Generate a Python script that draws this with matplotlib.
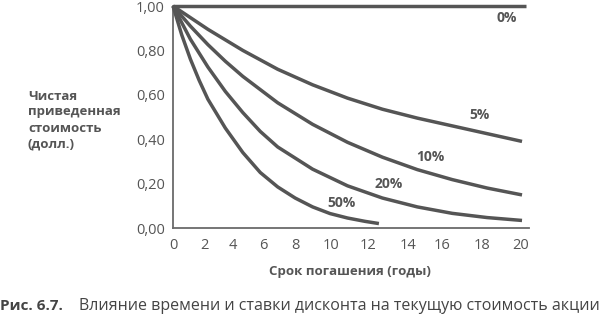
import matplotlib
matplotlib.use("Agg")
import matplotlib.pyplot as plt

# ---- data ----
rate_labels = ["0%", "5%", "10%", "20%", "50%"]

years_0 = [0, 20.2]
pv_0 = [1.0, 1.0]

years_5 = [0, 2, 4, 6, 8, 10, 12, 14, 16, 18, 20]
pv_5 = [1.0, 0.895, 0.80, 0.715, 0.645, 0.585, 0.535, 0.495, 0.46, 0.425, 0.39]

years_10 = [0, 1, 2, 3, 4, 6, 8, 10, 12, 14, 16, 18, 20]
pv_10 = [1.0, 0.909, 0.826, 0.751, 0.683, 0.564, 0.467, 0.386, 0.319, 0.263, 0.218, 0.180, 0.149]

years_20 = [0, 1, 2, 3, 4, 5, 6, 8, 10, 12, 14, 16, 18, 20]
pv_20 = [1.0, 0.85, 0.725, 0.615, 0.52, 0.435, 0.365, 0.265, 0.19, 0.135, 0.095, 0.066, 0.047, 0.034]

years_50 = [0, 0.5, 1, 1.5, 2, 3, 4, 5, 6, 7, 8, 9, 10, 11, 11.8]
pv_50 = [1.0, 0.87, 0.76, 0.665, 0.58, 0.45, 0.34, 0.25, 0.185, 0.135, 0.095, 0.065, 0.045, 0.03, 0.02]

x_tick_labels = ["0", "2", "4", "6", "8", "10", "12", "14", "16", "18", "20"]
y_tick_values = [0.0, 0.2, 0.4, 0.6, 0.8, 1.0]
y_tick_labels = ["0,00", "0,20", "0,40", "0,60", "0,80", "1,00"]

y_title = "Чистая\nприведенная\nстоимость\n(долл.)"
x_title = "Срок погашения (годы)"
caption_bold = "Рис. 6.7."
caption_text = "Влияние времени и ставки дисконта на текущую стоимость акции"

# ---- layout / style ----
x_tick_pos = [0.05, 1.8, 3.45, 5.2, 7.0, 9.05, 11.15, 13.45, 15.4, 17.7, 19.9]
label_pos = [(19.14, 0.946), (17.58, 0.509), (14.76, 0.320), (12.34, 0.198), (9.63, 0.113)]

FONT = "Open Sans"
plt.rcParams["font.family"] = [FONT, "DejaVu Sans"]
line_c = "#555555"
text_c = "#555555"

fig = plt.figure(figsize=(6.0, 3.18), dpi=100)
ax = fig.add_axes([173 / 600, 90 / 318, 356 / 600, 222 / 318])
ax.set_xlim(0, 20.4)
ax.set_ylim(0, 1.0)

series = [(years_0, pv_0), (years_5, pv_5), (years_10, pv_10),
          (years_20, pv_20), (years_50, pv_50)]
for (xs, ys) in series:
    ax.plot(xs, ys, color=line_c, lw=2.5, solid_capstyle="butt",
            solid_joinstyle="round", clip_on=False, zorder=3)

for lab, (lx, ly) in zip(rate_labels, label_pos):
    ax.text(lx, ly, lab, ha="center", va="center", fontsize=10,
            fontweight="bold", color=text_c)

for s in ["top", "right"]:
    ax.spines[s].set_visible(False)
for s in ["left", "bottom"]:
    ax.spines[s].set_color("#6a6a6a")
    ax.spines[s].set_linewidth(1.3)

ax.set_xticks(x_tick_pos)
ax.set_xticklabels(x_tick_labels)
ax.set_yticks(y_tick_values)
ax.set_yticklabels(y_tick_labels)
ax.tick_params(axis="both", length=0, labelsize=10.5, labelcolor=text_c)
ax.tick_params(axis="x", pad=7)
ax.tick_params(axis="y", pad=6)

fig.text(28 / 600, 1 - 120 / 318, y_title, ha="left", va="center",
         fontsize=9.5, fontweight="bold", color=text_c, linespacing=1.3)
fig.text(350 / 600, 1 - 271 / 318, x_title, ha="center", va="center",
         fontsize=9.5, fontweight="bold", color=text_c)

fig.text(0 / 600, 1 - 306 / 318, caption_bold, ha="left", va="center",
         fontsize=11, fontweight="bold", color="#444444")
fig.text(79 / 600, 1 - 306 / 318, caption_text, ha="left", va="center",
         fontsize=11.5, color="#444444")

fig.savefig("out.png", dpi=100, facecolor="white")
